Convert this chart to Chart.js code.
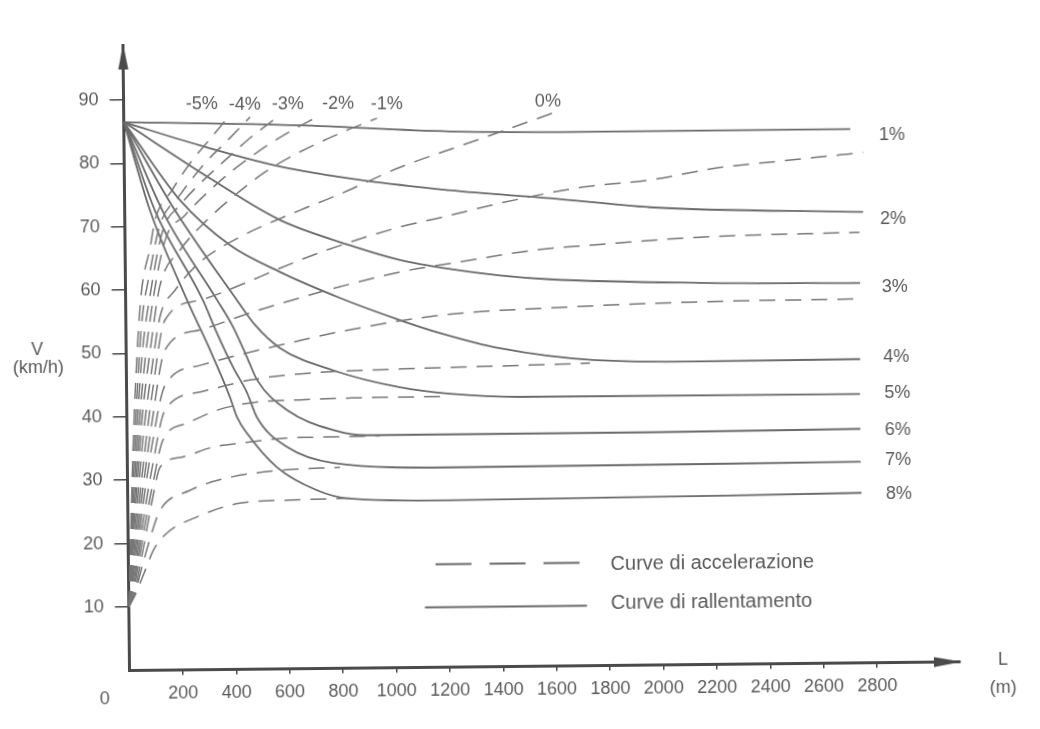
<!DOCTYPE html>
<html>
<head>
<meta charset="utf-8">
<script src="https://cdn.jsdelivr.net/npm/chart.js@4.4.1/dist/chart.umd.min.js"></script>
<style>
  html, body { margin: 0; padding: 0; background: #fff; }
  #wrap { width: 1040px; height: 729px; overflow: hidden; }
  /* the scanned page is a little tilted, so is the canvas */
  #chart { display: block; transform: rotate(-0.6deg); transform-origin: 130px 670px; }
</style>
</head>
<body>
<div id="wrap"><canvas id="chart" width="1040" height="729"></canvas></div>
<script>
// L (m) , V (km/h)

// curve di rallentamento (solid), grades 1% .. 8%
var decel1 = [[0,86.5],[660,85.7],[1220,84.5],[1970,84.2],[2720,84.2]];
var decel2 = [[0,86.5],[284,82.7],[609,79.0],[1219,75.2],[1593,73.8],[1967,72.2],[2765,71.1]];
var decel3 = [[0,86.5],[331,77.2],[581,70.8],[842,66.7],[1029,64.3],[1216,62.8],[1403,61.7],[1590,61.0],[2151,60.2],[2751,59.9]];
var decel4 = [[0,86.5],[207,74.1],[393,66.9],[579,62.6],[803,58.4],[1027,54.8],[1176,52.7],[1400,50.2],[1748,48.2],[2148,47.8],[2748,47.9]];
var decel5 = [[0,86.5],[188,72.5],[417,58.2],[483,54.3],[576,50.6],[774,47.0],[1024,44.2],[1211,43.1],[1473,42.5],[2746,42.4]];
var decel6 = [[0,86.5],[150,71.7],[342,58.3],[401,54.0],[452,49.2],[489,45.6],[600,40.8],[771,37.6],[898,36.7],[1958,36.7],[2746,36.9]];
var decel7 = [[0,86.5],[113,72.5],[289,58.3],[340,53.1],[399,47.7],[451,43.6],[487,39.7],[598,35.0],[770,32.4],[1208,31.5],[2746,31.7]];
var decel8 = [[0,86.5],[94,72.6],[230,58.3],[314,50.4],[387,42.9],[412,39.8],[449,37.2],[560,31.8],[709,28.1],[821,26.8],[1206,26.3],[2748,26.8]];

// curve di accelerazione (dashed), grades -5% .. 8%
var accelM5 = [[0,10],[25,38],[55,58],[95,67],[113,71.0],[178,75.7],[246,79.9],[318,83.5],[390,87.1]];
var accelM4 = [[0,10],[25,33],[55,53],[95,63.5],[131,70.2],[207,74.9],[302,79.9],[389,83.5],[473,87.1]];
var accelM3 = [[0,10],[25,29],[55,48],[95,60],[142,69.4],[207,73.3],[283,76.7],[377,80.3],[472,83.8],[574,87.0]];
var accelM2 = [[0,10],[25,26],[55,43],[95,56.5],[150,67.8],[225,71.7],[301,74.9],[396,78.4],[497,81.5],[611,84.5],[724,87.0]];
var accelM1 = [[0,10],[25,23.5],[55,39],[95,52],[129,60.7],[205,66.2],[300,70.6],[413,74.8],[527,78.4],[658,81.5],[809,84.4],[948,86.7]];
var accel0 = [[0,10],[25,21],[55,35],[95,47.5],[128,55.8],[185,59.9],[280,64.3],[431,68.2],[656,72.3],[795,74.6],[1032,78.9],[1344,83.4],[1604,87.2]];
var accel1 = [[0,10],[25,19],[55,31],[95,43.5],[146,55.2],[278,58.3],[429,60.6],[579,63.2],[756,66.0],[1030,69.5],[1192,71.0],[1406,73.1],[1717,75.5],[1968,76.5],[2220,78.3],[2493,79.4],[2767,80.5]];
var accel2 = [[0,10],[25,17.5],[55,28],[95,39.5],[145,50.5],[277,53.6],[465,56.2],[653,58.5],[852,60.7],[1028,62.4],[1253,63.9],[1527,65.6],[1842,66.6],[2153,67.4],[2751,67.9]];
var accel3 = [[0,10],[25,16],[55,25.5],[95,36],[144,44.9],[276,48.0],[463,50.0],[614,51.4],[790,53.0],[1176,55.5],[1664,56.6],[2151,57.2],[2750,57.4]];
var accel4 = [[0,10],[25,15],[55,23],[95,32.5],[143,41.0],[275,43.8],[462,45.6],[650,46.5],[1025,47.1],[1399,47.4],[1736,47.7]];
var accel5 = [[0,10],[25,14],[55,21],[95,29.5],[134,36.3],[225,38.9],[338,40.9],[461,42.0],[649,42.4],[836,42.6],[1211,42.7]];
var accel6 = [[0,10],[25,13],[55,19],[95,27.5],[122,32.0],[208,33.6],[321,35.1],[434,35.7],[598,36.4],[771,36.5],[947,36.6]];
var accel7 = [[0,10],[25,12.5],[55,17],[95,22.5],[120,25.2],[233,28.3],[384,30.3],[571,31.3],[796,31.7]];
var accel8 = [[0,10],[25,12],[55,15],[95,19],[145,21.6],[258,24.1],[420,26.2],[607,26.6],[832,26.8]];

var distTicks = [200,400,600,800,1000,1200,1400,1600,1800,2000,2200,2400,2600,2800];
var speedTicks = [10,20,30,40,50,60,70,80,90];

// grade labels and where they sit on the diagram (L, V)
var gradeText = ['-5%','-4%','-3%','-2%','-1%','0%','1%','2%','3%','4%','5%','6%','7%','8%'];
var gradeAtL  = [293,454,615,803,986,1589,2876,2877,2881,2883,2886,2886,2886,2888];
var gradeAtV  = [89.2,89.1,89.1,89.0,88.9,89.0,83.2,69.9,59.2,48.2,42.5,36.6,31.9,26.5];

var decelCurves = [decel1, decel2, decel3, decel4, decel5, decel6, decel7, decel8];
var accelCurves = [accelM5, accelM4, accelM3, accelM2, accelM1, accel0, accel1, accel2, accel3, accel4, accel5, accel6, accel7, accel8];

var axisColor = '#4a4a4a';
var lineColor = '#6a6a6a';
var dashColor = '#777777';
var textColor = '#5a5a5a';
var fontFamily = '"Liberation Sans", Arial, sans-serif';

function toPoints(arr) {
  return arr.map(function (p) { return {x: p[0], y: p[1]}; });
}

var datasets = [];
accelCurves.forEach(function (c, i) {
  datasets.push({
    label: 'acc ' + i,
    data: toPoints(c),
    borderColor: dashColor,
    borderWidth: 1.5,
    borderDash: [16, 10],
    pointRadius: 0,
    fill: false,
    cubicInterpolationMode: 'monotone'
  });
});
decelCurves.forEach(function (c, i) {
  datasets.push({
    label: 'rall ' + i,
    data: toPoints(c),
    borderColor: lineColor,
    borderWidth: 1.8,
    pointRadius: 0,
    fill: false,
    cubicInterpolationMode: 'monotone'
  });
});

var extrasPlugin = {
  id: 'extras',
  afterDraw: function (chart) {
    var ctx = chart.ctx;
    var ca = chart.chartArea;
    var xs = chart.scales.x, ys = chart.scales.y;
    ctx.save();

    // arrow heads
    ctx.fillStyle = axisColor;
    ctx.beginPath();
    ctx.moveTo(ca.right + 2, ca.bottom);
    ctx.lineTo(ca.right - 26, ca.bottom - 5);
    ctx.lineTo(ca.right - 26, ca.bottom + 5);
    ctx.closePath();
    ctx.fill();
    ctx.beginPath();
    ctx.moveTo(ca.left, ca.top - 2);
    ctx.lineTo(ca.left - 5, ca.top + 24);
    ctx.lineTo(ca.left + 5, ca.top + 24);
    ctx.closePath();
    ctx.fill();

    ctx.fillStyle = textColor;
    ctx.textAlign = 'center';
    ctx.textBaseline = 'middle';
    ctx.font = '18px ' + fontFamily;
    ctx.fillText('0', ca.left - 25, ca.bottom + 29);
    ctx.fillText('V', ca.left - 89, ca.bottom - 321);
    ctx.fillText('(km/h)', ca.left - 88, ca.bottom - 303);
    ctx.fillText('L', ca.right + 43, ca.bottom - 1);
    ctx.fillText('(m)', ca.right + 43, ca.bottom + 27);

    // grade labels
    gradeText.forEach(function (t, i) {
      ctx.fillText(t, xs.getPixelForValue(gradeAtL[i]), ys.getPixelForValue(gradeAtV[i]));
    });

    // legend inside the plot
    ctx.strokeStyle = lineColor;
    ctx.lineWidth = 2;
    ctx.setLineDash([36, 18]);
    ctx.beginPath();
    ctx.moveTo(ca.left + 307, ca.bottom - 103);
    ctx.lineTo(ca.left + 454, ca.bottom - 103);
    ctx.stroke();
    ctx.setLineDash([]);
    ctx.beginPath();
    ctx.moveTo(ca.left + 296, ca.bottom - 60);
    ctx.lineTo(ca.left + 458, ca.bottom - 60);
    ctx.stroke();
    ctx.textAlign = 'left';
    ctx.font = '20px ' + fontFamily;
    ctx.fillText('Curve di accelerazione', ca.left + 482, ca.bottom - 101);
    ctx.fillText('Curve di rallentamento', ca.left + 482, ca.bottom - 62);
    ctx.restore();
  }
};

var ctx = document.getElementById('chart').getContext('2d');
var myChart = new Chart(ctx, {
  type: 'line',
  data: { datasets: datasets },
  options: {
    responsive: false,
    animation: false,
    devicePixelRatio: 1,
    events: [],
    layout: { padding: { top: 45.4, right: 80, bottom: 0, left: 0 } },
    plugins: { legend: { display: false }, tooltip: { enabled: false } },
    scales: {
      x: {
        type: 'linear',
        min: 0,
        max: 3110,
        afterFit: function (s) { s.height = 58.6; },
        afterBuildTicks: function (s) { s.ticks = distTicks.map(function (v) { return {value: v}; }); },
        ticks: {
          autoSkip: false,
          maxRotation: 0,
          padding: 8,
          color: textColor,
          font: { family: fontFamily, size: 18 },
          callback: function (v) { return String(v); }
        },
        grid: { drawOnChartArea: false, drawTicks: true, tickLength: 5, color: axisColor, lineWidth: 1.5 },
        border: { display: true, color: axisColor, width: 3 }
      },
      y: {
        type: 'linear',
        min: 0,
        max: 98.6,
        afterFit: function (s) { s.width = 129.6; },
        afterBuildTicks: function (s) { s.ticks = speedTicks.map(function (v) { return {value: v}; }); },
        ticks: {
          padding: 11,
          color: textColor,
          font: { family: fontFamily, size: 18 },
          callback: function (v) { return String(v); }
        },
        grid: { drawOnChartArea: false, drawTicks: true, tickLength: 14, color: axisColor, lineWidth: 1.5 },
        border: { display: true, color: axisColor, width: 3 }
      }
    }
  },
  plugins: [extrasPlugin]
});
</script>
</body>
</html>
